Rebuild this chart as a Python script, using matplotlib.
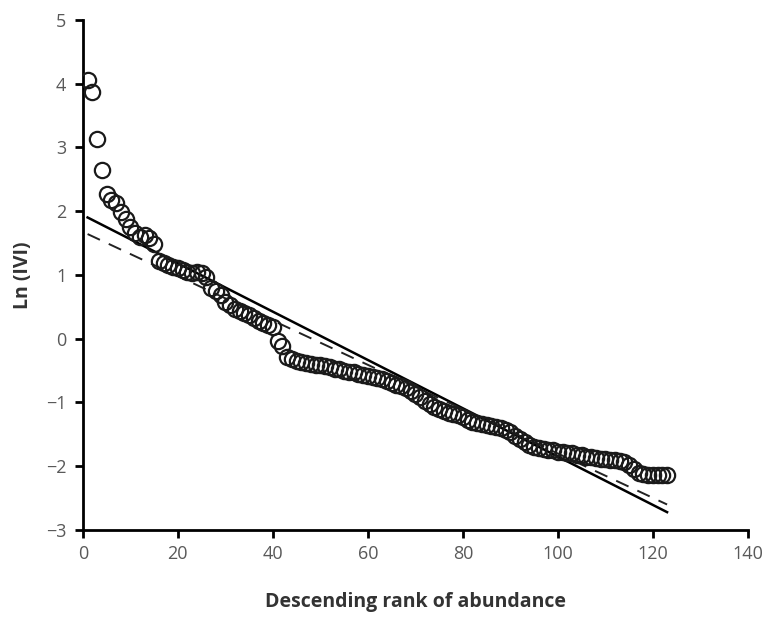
import numpy as np
import matplotlib
matplotlib.use('Agg')
from matplotlib import pyplot as plt

## data
rank = np.arange(1, 124)
ln_ivi = [4.05, 3.87, 3.13, 2.65, 2.27, 2.18, 2.12, 1.98, 1.87, 1.75,
          1.65, 1.60, 1.62, 1.58, 1.49, 1.22, 1.18, 1.15, 1.12, 1.10,
          1.07, 1.05, 1.03, 1.05, 1.03, 0.97, 0.80, 0.75, 0.68, 0.58,
          0.52, 0.47, 0.43, 0.41, 0.37, 0.33, 0.28, 0.25, 0.22, 0.18,
          -0.03, -0.12, -0.28, -0.32, -0.35, -0.37, -0.38, -0.40, -0.41, -0.42,
          -0.43, -0.45, -0.47, -0.48, -0.50, -0.52, -0.53, -0.55, -0.57, -0.58,
          -0.60, -0.62, -0.64, -0.66, -0.69, -0.72, -0.75, -0.78, -0.82, -0.87,
          -0.92, -0.98, -1.03, -1.07, -1.10, -1.13, -1.16, -1.18, -1.20, -1.23,
          -1.27, -1.30, -1.32, -1.34, -1.36, -1.37, -1.38, -1.40, -1.43, -1.47,
          -1.52, -1.57, -1.62, -1.67, -1.70, -1.72, -1.73, -1.74, -1.75, -1.77,
          -1.78, -1.79, -1.80, -1.82, -1.83, -1.85, -1.86, -1.87, -1.88, -1.89,
          -1.90, -1.91, -1.92, -1.94, -1.98, -2.05, -2.10, -2.12, -2.13, -2.13,
          -2.13, -2.13, -2.13]

# fitted lines (end points)
fit_x = [1, 123]
fit_solid = [1.90, -2.72]
fit_dashed = [1.64, -2.60]

plt.rcParams['font.family'] = ['Open Sans', 'DejaVu Sans']

fig = plt.figure(figsize=(7.67, 6.17), dpi=100)
ax = fig.add_axes([0.108, 0.141, 0.867, 0.827])

ax.plot(rank, ln_ivi, 'o', markerfacecolor='none', markeredgecolor='#1a1a1a',
        markersize=11, markeredgewidth=1.6, zorder=3)
ax.plot(fit_x, fit_solid, color='black', lw=1.8, zorder=2)
ax.plot(fit_x, fit_dashed, color='#222222', lw=1.4, dashes=(7, 5), zorder=2)

ax.set_xlim(0, 140)
ax.set_ylim(-3, 5)
ax.set_xticks(range(0, 141, 20))
ax.set_yticks(range(-3, 6))

for s in ['top', 'right']:
    ax.spines[s].set_visible(False)
for s in ['left', 'bottom']:
    ax.spines[s].set_linewidth(2)
    ax.spines[s].set_color('black')
ax.tick_params(axis='both', direction='out', length=6, width=2, color='black',
               labelsize=13, labelcolor='#595959')
ax.tick_params(axis='x', pad=5)
ax.tick_params(axis='y', pad=6)

ax.set_xlabel('Descending rank of abundance', fontsize=14, fontweight='bold',
              color='#333333', labelpad=21)
ax.set_ylabel('Ln (IVI)', fontsize=14, fontweight='bold', color='#333333',
              labelpad=9)

plt.savefig('out.png', dpi=100)
